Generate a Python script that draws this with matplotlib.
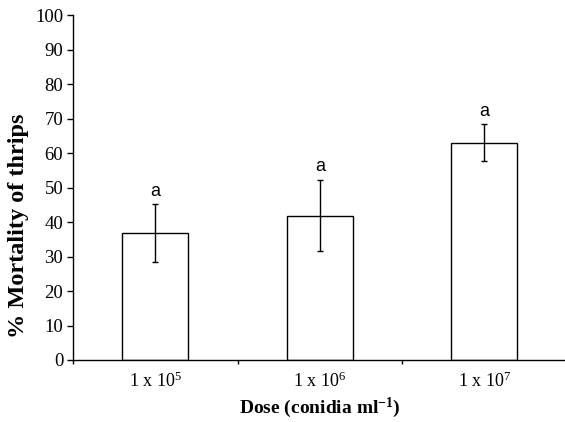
import matplotlib
matplotlib.use("Agg")
import matplotlib.pyplot as plt

categories = ["1 x 10$^{5}$", "1 x 10$^{6}$", "1 x 10$^{7}$"]
mortality = [36.7, 41.7, 63.0]
err_low = [28.4, 31.5, 57.7]
err_high = [45.1, 52.1, 68.3]
letters = ["a", "a", "a"]
letter_y = [48.8, 56.2, 72.0]
yticks = [0, 10, 20, 30, 40, 50, 60, 70, 80, 90, 100]

plt.rcParams['font.family'] = ['Liberation Serif', 'DejaVu Serif']
plt.rcParams['mathtext.fontset'] = 'custom'
plt.rcParams['mathtext.rm'] = 'Liberation Serif'
plt.rcParams['mathtext.it'] = 'Liberation Serif:italic'
plt.rcParams['mathtext.bf'] = 'Liberation Serif:bold'

fig = plt.figure(figsize=(5.65, 4.22), dpi=100)
ax = fig.add_axes([73/565, 1-360/422, 493.5/565, 345/422])

x = list(range(len(categories)))
yerr = [[m - l for m, l in zip(mortality, err_low)],
        [h - m for m, h in zip(mortality, err_high)]]
ax.bar(x, mortality, width=0.4, color='white', edgecolor='black', linewidth=1.0, zorder=2)
ax.errorbar(x, mortality, yerr=yerr, fmt='none', ecolor='black', elinewidth=1.0,
            capsize=2.5, capthick=1.0, zorder=3)
for xi, yi, t in zip(x, letter_y, letters):
    ax.text(xi, yi, t, ha='center', va='center', fontsize=13,
            family=['Liberation Sans', 'DejaVu Sans'])

ax.set_xlim(-0.5, 2.5)
ax.set_ylim(0, 100)
ax.set_yticks(yticks)
ax.tick_params(axis='y', labelsize=13.5, length=4, width=1, direction='out', pad=3)
ax.set_xticks([-0.5, 0.5, 1.5, 2.5])
ax.set_xticklabels([])
ax.set_xticks(x, minor=True)
ax.set_xticklabels(categories, minor=True)
ax.tick_params(axis='x', which='major', length=3, width=1, direction='out')
ax.tick_params(axis='x', which='minor', length=0, labelsize=13, pad=8)

for s in ['top', 'right']:
    ax.spines[s].set_visible(False)
for s in ['left', 'bottom']:
    ax.spines[s].set_linewidth(1.0)

ax.set_ylabel('% Mortality of thrips', fontsize=17.5, fontweight='bold')
ax.yaxis.set_label_coords(-0.09, 0.39)
ax.set_xlabel(r'Dose (conidia ml$^{\mathbf{-1}}$)', fontsize=14, fontweight='bold', labelpad=4)

fig.savefig('out.png', dpi=100)
